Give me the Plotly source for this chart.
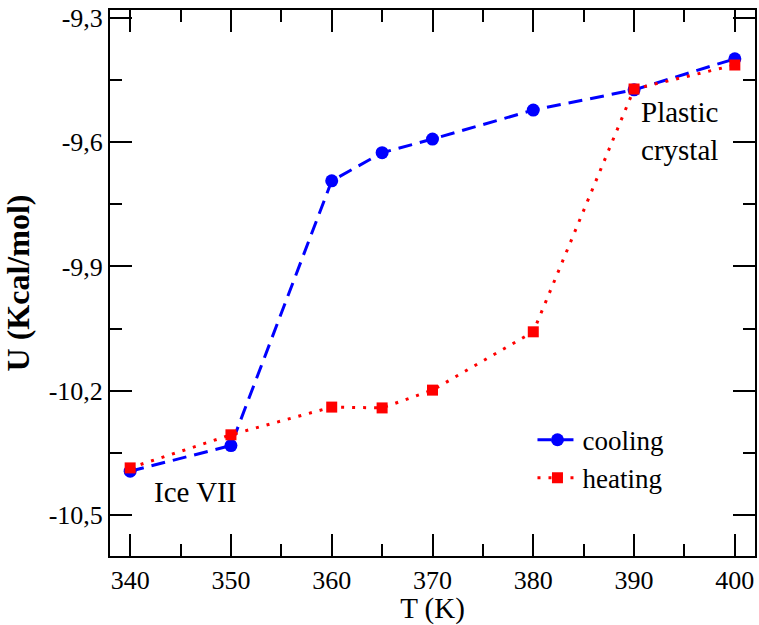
import plotly.graph_objects as go

T = [340, 350, 360, 365, 370, 380, 390, 400]
cooling = [-10.395, -10.333, -9.693, -9.625, -9.592, -9.522, -9.473, -9.398]
heating = [-10.387, -10.307, -10.24, -10.242, -10.199, -10.058, -9.471, -9.413]

xticks = [340, 350, 360, 370, 380, 390, 400]
yticks = [-10.5, -10.2, -9.9, -9.6, -9.3]

FONT = "Liberation Serif"

fig = go.Figure()
fig.add_trace(go.Scatter(
    x=T, y=cooling, name="cooling", mode="lines+markers",
    line=dict(color="#0000ff", width=3, dash="14px,8px"),
    marker=dict(symbol="circle", size=13, color="#0000ff"),
))
fig.add_trace(go.Scatter(
    x=T, y=heating, name="heating", mode="lines+markers",
    line=dict(color="#ff0000", width=3, dash="3px,8px"),
    marker=dict(symbol="square", size=11, color="#ff0000"),
))

axis_common = dict(
    showline=True, linecolor="black", linewidth=2, mirror="allticks",
    ticks="inside", ticklen=22, tickwidth=1.5, tickcolor="black",
    showgrid=False, zeroline=False, automargin=False,
    tickfont=dict(family=FONT, size=26, color="black"),
)

fig.update_xaxes(
    range=[338, 402], tickvals=xticks, ticktext=[str(v) for v in xticks],
    title=dict(text="T (K)", font=dict(family=FONT, size=29, color="black")),
    minor=dict(ticks="inside", ticklen=12, tickwidth=1.5, tickcolor="black", dtick=5, tick0=340, showgrid=False),
    **axis_common,
)
fig.update_yaxes(
    range=[-10.6, -9.28], tickvals=yticks, ticktext=["-10,5", "-10,2", "-9,9", "-9,6", "-9,3"],
    title=dict(text="<b>U (Kcal/mol)</b>", font=dict(family=FONT, size=32, color="black")),
    minor=dict(ticks="inside", ticklen=12, tickwidth=1.5, tickcolor="black", dtick=0.15, tick0=-10.5, showgrid=False),
    **axis_common,
)

fig.add_annotation(x=346.4, y=-10.445, text="Ice VII", showarrow=False,
                   font=dict(family=FONT, size=29, color="black"))
fig.add_annotation(x=394.5, y=-9.573, text="Plastic<br>crystal", showarrow=False,
                   font=dict(family=FONT, size=29, color="black"))

fig.update_layout(
    width=759, height=625,
    margin=dict(l=110, r=4, t=10, b=69),
    plot_bgcolor="white", paper_bgcolor="white",
    showlegend=True,
    legend=dict(x=0.655, y=0.257, xanchor="left", yanchor="top",
                bgcolor="rgba(0,0,0,0)", borderwidth=0,
                font=dict(family=FONT, size=27, color="black"),
                itemwidth=40, tracegroupgap=0),
    font=dict(family=FONT),
)

fig.write_html("out.html", config={"displayModeBar": False},
               post_script="document.body.style.margin='0';")
